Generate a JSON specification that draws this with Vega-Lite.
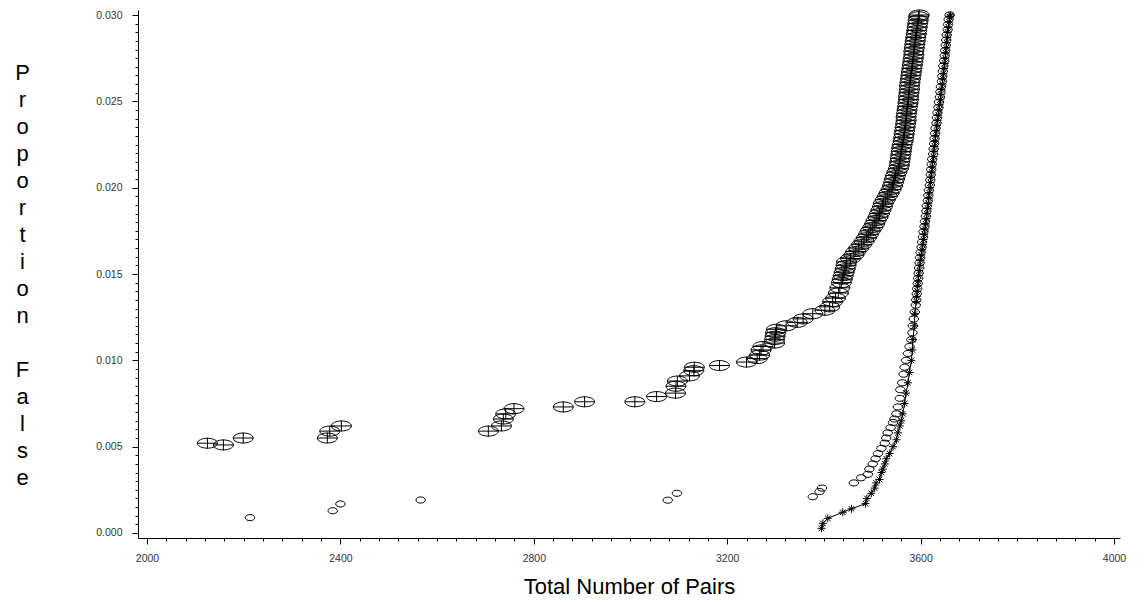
{
  "$schema": "https://vega.github.io/schema/vega-lite/v6.json",
  "autosize": "none",
  "width": 982,
  "height": 528,
  "padding": {"left": 138, "top": 10, "right": 24, "bottom": 65},
  "background": "white",
  "config": {
    "view": {"stroke": null},
    "axis": {"grid": false, "domainColor": "black", "domainWidth": 1, "tickColor": "black", "tickWidth": 1, "labelColor": "#333333", "labelFont": "Liberation Sans", "labelFontSize": 10.5, "titleFont": "Liberation Sans", "titleFontWeight": "normal", "titleColor": "black", "titleFontSize": 22, "labelOverlap": false, "labelFlush": false}
  },
  "datasets": {
    "plus": [
      {"x": 2125, "y": 0.0052}, {"x": 2158, "y": 0.0051}, {"x": 2199, "y": 0.0055},
      {"x": 2373, "y": 0.0055}, {"x": 2378, "y": 0.0059}, {"x": 2402, "y": 0.0062},
      {"x": 2706, "y": 0.0059}, {"x": 2733, "y": 0.0062}, {"x": 2737, "y": 0.0066}, {"x": 2742, "y": 0.0069}, {"x": 2759, "y": 0.0072},
      {"x": 2861, "y": 0.0073}, {"x": 2905, "y": 0.0076}, {"x": 3009, "y": 0.0076}, {"x": 3054, "y": 0.0079},
      {"x": 3093, "y": 0.0081}, {"x": 3094, "y": 0.0085}, {"x": 3097, "y": 0.0088}, {"x": 3122, "y": 0.0091}, {"x": 3131, "y": 0.0094}, {"x": 3132, "y": 0.0096},
      {"x": 3184, "y": 0.0097}, {"x": 3240, "y": 0.0099}, {"x": 3262, "y": 0.0101}, {"x": 3267, "y": 0.0103}, {"x": 3270, "y": 0.0106}, {"x": 3274, "y": 0.0108},
      {"x": 3298, "y": 0.0110}, {"x": 3298, "y": 0.0112}, {"x": 3299, "y": 0.0114}, {"x": 3300, "y": 0.0116}, {"x": 3302, "y": 0.0118},
      {"x": 3322, "y": 0.0120}, {"x": 3345, "y": 0.0122}, {"x": 3357, "y": 0.0124}, {"x": 3377, "y": 0.0127}, {"x": 3402, "y": 0.0129},
      {"x": 3412, "y": 0.0131}, {"x": 3418, "y": 0.0134}, {"x": 3424, "y": 0.0136}, {"x": 3430, "y": 0.0139}, {"x": 3433, "y": 0.0142},
      {"x": 3436, "y": 0.0145}, {"x": 3438, "y": 0.0147}, {"x": 3440, "y": 0.0149}, {"x": 3442, "y": 0.0151}, {"x": 3444, "y": 0.0153},
      {"x": 3446, "y": 0.0155}, {"x": 3447, "y": 0.0157}, {"x": 3455, "y": 0.0159}, {"x": 3462, "y": 0.0161}, {"x": 3466, "y": 0.0163},
      {"x": 3472, "y": 0.0165}, {"x": 3478, "y": 0.0167}, {"x": 3483, "y": 0.0169}, {"x": 3488, "y": 0.0171}, {"x": 3492, "y": 0.0173},
      {"x": 3496, "y": 0.0175}, {"x": 3501, "y": 0.0177}, {"x": 3505, "y": 0.0179}, {"x": 3508, "y": 0.0181}, {"x": 3512, "y": 0.0183},
      {"x": 3515, "y": 0.0185}, {"x": 3518, "y": 0.0187}, {"x": 3521, "y": 0.0189}, {"x": 3523, "y": 0.0191}, {"x": 3527, "y": 0.0193},
      {"x": 3531, "y": 0.0195}, {"x": 3535, "y": 0.0197}, {"x": 3539, "y": 0.0199}, {"x": 3542, "y": 0.0201}, {"x": 3544, "y": 0.0203},
      {"x": 3546, "y": 0.0205}, {"x": 3548, "y": 0.0207}, {"x": 3551, "y": 0.0209}, {"x": 3554, "y": 0.0211}, {"x": 3556, "y": 0.0213},
      {"x": 3557, "y": 0.0215}, {"x": 3558, "y": 0.0217}, {"x": 3559, "y": 0.0219}, {"x": 3560, "y": 0.0221}, {"x": 3561, "y": 0.0223},
      {"x": 3562, "y": 0.0225}, {"x": 3564, "y": 0.0227}, {"x": 3565, "y": 0.0229}, {"x": 3566, "y": 0.0231}, {"x": 3567, "y": 0.0233},
      {"x": 3568, "y": 0.0235}, {"x": 3569, "y": 0.0237}, {"x": 3570, "y": 0.0239}, {"x": 3570, "y": 0.0241}, {"x": 3571, "y": 0.0243},
      {"x": 3572, "y": 0.0245}, {"x": 3573, "y": 0.0247}, {"x": 3574, "y": 0.0249}, {"x": 3575, "y": 0.0251}, {"x": 3575, "y": 0.0253},
      {"x": 3576, "y": 0.0255}, {"x": 3577, "y": 0.0257}, {"x": 3577, "y": 0.0259}, {"x": 3578, "y": 0.0261}, {"x": 3579, "y": 0.0263},
      {"x": 3580, "y": 0.0265}, {"x": 3581, "y": 0.0267}, {"x": 3582, "y": 0.0269}, {"x": 3583, "y": 0.0271}, {"x": 3584, "y": 0.0273},
      {"x": 3585, "y": 0.0275}, {"x": 3586, "y": 0.0277}, {"x": 3586, "y": 0.0279}, {"x": 3587, "y": 0.0281}, {"x": 3588, "y": 0.0283},
      {"x": 3589, "y": 0.0285}, {"x": 3590, "y": 0.0287}, {"x": 3591, "y": 0.0289}, {"x": 3592, "y": 0.0291}, {"x": 3593, "y": 0.0293},
      {"x": 3594, "y": 0.0295}, {"x": 3595, "y": 0.0297}, {"x": 3596, "y": 0.0299}, {"x": 3597, "y": 0.0300}
    ],
    "circ": [
      {"x": 2213, "y": 0.00089}, {"x": 2384, "y": 0.00129}, {"x": 2400, "y": 0.00168}, {"x": 2566, "y": 0.00191},
      {"x": 3077, "y": 0.0019}, {"x": 3096, "y": 0.0023}, {"x": 3377, "y": 0.0021}, {"x": 3391, "y": 0.0024}, {"x": 3396, "y": 0.0026},
      {"x": 3462, "y": 0.0029}, {"x": 3477, "y": 0.0032}, {"x": 3491, "y": 0.0034}, {"x": 3494, "y": 0.0037}, {"x": 3501, "y": 0.0040},
      {"x": 3507, "y": 0.0043}, {"x": 3512, "y": 0.0046}, {"x": 3519, "y": 0.0049}, {"x": 3526, "y": 0.0052}, {"x": 3529, "y": 0.0055},
      {"x": 3532, "y": 0.0058}, {"x": 3538, "y": 0.0061}, {"x": 3543, "y": 0.0064}, {"x": 3546, "y": 0.0066}, {"x": 3550, "y": 0.0069},
      {"x": 3553, "y": 0.0073}, {"x": 3557, "y": 0.0078}, {"x": 3558, "y": 0.0083}, {"x": 3562, "y": 0.0087}, {"x": 3565, "y": 0.0092},
      {"x": 3567, "y": 0.0096}, {"x": 3570, "y": 0.0100}, {"x": 3574, "y": 0.0104}, {"x": 3577, "y": 0.0108}, {"x": 3581, "y": 0.0112},
      {"x": 3583, "y": 0.0116}, {"x": 3584, "y": 0.0120}, {"x": 3586, "y": 0.0124}, {"x": 3588, "y": 0.0128}, {"x": 3590, "y": 0.0132},
      {"x": 3591, "y": 0.0135}, {"x": 3592, "y": 0.01385}, {"x": 3593, "y": 0.01415}, {"x": 3594, "y": 0.01445}, {"x": 3595, "y": 0.01475},
      {"x": 3596, "y": 0.01505}, {"x": 3597, "y": 0.01535}, {"x": 3598, "y": 0.01565}, {"x": 3599, "y": 0.01595}, {"x": 3600, "y": 0.01625},
      {"x": 3602, "y": 0.01655}, {"x": 3603, "y": 0.01685}, {"x": 3605, "y": 0.01715}, {"x": 3606, "y": 0.01745}, {"x": 3608, "y": 0.01775},
      {"x": 3609, "y": 0.01805}, {"x": 3611, "y": 0.01835}, {"x": 3612, "y": 0.01865}, {"x": 3613, "y": 0.01895}, {"x": 3615, "y": 0.01925},
      {"x": 3616, "y": 0.01955}, {"x": 3617, "y": 0.01985}, {"x": 3619, "y": 0.02015}, {"x": 3620, "y": 0.02045}, {"x": 3621, "y": 0.02075},
      {"x": 3622, "y": 0.02105}, {"x": 3623, "y": 0.02135}, {"x": 3624, "y": 0.02165}, {"x": 3626, "y": 0.02195}, {"x": 3627, "y": 0.02225},
      {"x": 3628, "y": 0.02255}, {"x": 3629, "y": 0.02285}, {"x": 3630, "y": 0.02315}, {"x": 3631, "y": 0.02345}, {"x": 3633, "y": 0.02375},
      {"x": 3634, "y": 0.02405}, {"x": 3635, "y": 0.02435}, {"x": 3637, "y": 0.02465}, {"x": 3638, "y": 0.02495}, {"x": 3640, "y": 0.02525},
      {"x": 3641, "y": 0.02555}, {"x": 3642, "y": 0.02585}, {"x": 3644, "y": 0.02615}, {"x": 3645, "y": 0.02645}, {"x": 3646, "y": 0.02675},
      {"x": 3647, "y": 0.02705}, {"x": 3649, "y": 0.02735}, {"x": 3650, "y": 0.02765}, {"x": 3651, "y": 0.02795}, {"x": 3652, "y": 0.02825},
      {"x": 3653, "y": 0.02855}, {"x": 3654, "y": 0.02885}, {"x": 3656, "y": 0.02915}, {"x": 3657, "y": 0.02945}, {"x": 3658, "y": 0.02975},
      {"x": 3660, "y": 0.0300}
    ],
    "star": [
      {"x": 3395, "y": 0.00027}, {"x": 3398, "y": 0.00056}, {"x": 3408, "y": 0.00085}, {"x": 3439, "y": 0.0012}, {"x": 3457, "y": 0.0014},
      {"x": 3486, "y": 0.0017}, {"x": 3489, "y": 0.0020}, {"x": 3498, "y": 0.0023}, {"x": 3505, "y": 0.0026}, {"x": 3508, "y": 0.0029},
      {"x": 3515, "y": 0.0031}, {"x": 3519, "y": 0.0035}, {"x": 3522, "y": 0.0037}, {"x": 3526, "y": 0.0040}, {"x": 3529, "y": 0.0043},
      {"x": 3536, "y": 0.0046}, {"x": 3543, "y": 0.0050}, {"x": 3550, "y": 0.0054}, {"x": 3553, "y": 0.0058}, {"x": 3557, "y": 0.0062},
      {"x": 3560, "y": 0.0065}, {"x": 3563, "y": 0.0069}, {"x": 3567, "y": 0.0075}, {"x": 3570, "y": 0.0081}, {"x": 3574, "y": 0.0087},
      {"x": 3577, "y": 0.0093}, {"x": 3581, "y": 0.0100}, {"x": 3583, "y": 0.0106}, {"x": 3584, "y": 0.0112}, {"x": 3587, "y": 0.0120},
      {"x": 3588, "y": 0.0127}, {"x": 3591, "y": 0.0134}, {"x": 3592, "y": 0.0137}, {"x": 3593, "y": 0.0140}, {"x": 3594, "y": 0.0143},
      {"x": 3595, "y": 0.0146}, {"x": 3596, "y": 0.0149}, {"x": 3597, "y": 0.0152}, {"x": 3598.5, "y": 0.0155}, {"x": 3600, "y": 0.0158},
      {"x": 3601.5, "y": 0.0161}, {"x": 3603, "y": 0.0164}, {"x": 3604.5, "y": 0.0167}, {"x": 3606, "y": 0.0170}, {"x": 3607.5, "y": 0.0173},
      {"x": 3609, "y": 0.0176}, {"x": 3610.5, "y": 0.0179}, {"x": 3612, "y": 0.0182}, {"x": 3613, "y": 0.0185}, {"x": 3614.5, "y": 0.0188},
      {"x": 3616, "y": 0.0191}, {"x": 3617, "y": 0.0194}, {"x": 3618, "y": 0.0197}, {"x": 3619.5, "y": 0.0200}, {"x": 3620.5, "y": 0.0203},
      {"x": 3621.5, "y": 0.0206}, {"x": 3623, "y": 0.0209}, {"x": 3624, "y": 0.0212}, {"x": 3625, "y": 0.0215}, {"x": 3626.5, "y": 0.0218},
      {"x": 3627.5, "y": 0.0221}, {"x": 3629, "y": 0.0224}, {"x": 3630, "y": 0.0227}, {"x": 3631, "y": 0.0230}, {"x": 3632.5, "y": 0.0233},
      {"x": 3634, "y": 0.0236}, {"x": 3635, "y": 0.0239}, {"x": 3636.5, "y": 0.0242}, {"x": 3638, "y": 0.0245}, {"x": 3639.5, "y": 0.0248},
      {"x": 3641, "y": 0.0251}, {"x": 3642, "y": 0.0254}, {"x": 3643.5, "y": 0.0257}, {"x": 3645, "y": 0.0260}, {"x": 3646, "y": 0.0263},
      {"x": 3647, "y": 0.0266}, {"x": 3648.5, "y": 0.0269}, {"x": 3650, "y": 0.0272}, {"x": 3651, "y": 0.0275}, {"x": 3652, "y": 0.0278},
      {"x": 3653, "y": 0.0281}, {"x": 3654, "y": 0.0284}, {"x": 3655, "y": 0.0287}, {"x": 3656, "y": 0.0290}, {"x": 3657.5, "y": 0.0293},
      {"x": 3659, "y": 0.0296}, {"x": 3660.5, "y": 0.0299}, {"x": 3662, "y": 0.0300}
    ]
  },
  "encoding": {
    "x": {
      "field": "x", "type": "quantitative",
      "scale": {"domain": [1981.39, 4012.41], "nice": false, "zero": false},
      "axis": {
        "values": [2000,2040,2080,2120,2160,2200,2240,2280,2320,2360,2400,2440,2480,2520,2560,2600,2640,2680,2720,2760,2800,2840,2880,2920,2960,3000,3040,3080,3120,3160,3200,3240,3280,3320,3360,3400,3440,3480,3520,3560,3600,3640,3680,3720,3760,3800,3840,3880,3920,3960,4000],
        "format": "d",
        "labelExpr": "datum.value % 400 === 0 ? datum.label : ''",
        "tickSize": {"condition": {"test": "datum.value % 400 === 0", "value": 6}, "value": 3},
        "labelPadding": 9,
        "labelBaseline": "top",
        "title": "Total Number of Pairs",
        "titleBaseline": "alphabetic",
        "titleY": 55
      }
    },
    "y": {
      "field": "y", "type": "quantitative",
      "scale": {"domain": [-0.00029, 0.03029], "nice": false, "zero": false},
      "axis": {
        "values": [0,0.0005,0.001,0.0015,0.002,0.0025,0.003,0.0035,0.004,0.0045,0.005,0.0055,0.006,0.0065,0.007,0.0075,0.008,0.0085,0.009,0.0095,0.01,0.0105,0.011,0.0115,0.012,0.0125,0.013,0.0135,0.014,0.0145,0.015,0.0155,0.016,0.0165,0.017,0.0175,0.018,0.0185,0.019,0.0195,0.02,0.0205,0.021,0.0215,0.022,0.0225,0.023,0.0235,0.024,0.0245,0.025,0.0255,0.026,0.0265,0.027,0.0275,0.028,0.0285,0.029,0.0295,0.03],
        "format": ".3f",
        "labelExpr": "abs(datum.value*200 - round(datum.value*200)) < 0.001 ? datum.label : ''",
        "tickSize": {"condition": {"test": "abs(datum.value*200 - round(datum.value*200)) < 0.001", "value": 6}, "value": 3},
        "labelPadding": 10,
        "title": ["P","r","o","p","o","r","t","i","o","n","\u2800","F","a","l","s","e"],
        "titleAngle": 0,
        "titleAlign": "center",
        "titleBaseline": "alphabetic",
        "titleLineHeight": 27,
        "titleX": -116,
        "titleY": 69
      }
    }
  },
  "layer": [
    {
      "data": {"name": "plus"},
      "mark": {"type": "point", "shape": "M-1,0A1,0.5 0 1,0 1,0A1,0.5 0 1,0 -1,0M-1,0L1,0M0,-0.55L0,0.55", "size": 400, "filled": false, "color": "black", "strokeWidth": 1, "opacity": 1}
    },
    {
      "data": {"name": "circ"},
      "mark": {"type": "point", "shape": "M-1,0A1,0.65 0 1,0 1,0A1,0.65 0 1,0 -1,0", "size": 90, "filled": false, "color": "black", "strokeWidth": 1, "opacity": 1}
    },
    {
      "data": {"name": "star"},
      "mark": {"type": "line", "color": "black", "strokeWidth": 1},
      "encoding": {"order": {"field": "y", "type": "quantitative"}}
    },
    {
      "data": {"name": "star"},
      "mark": {"type": "point", "shape": "M-1,0L1,0M0,-1L0,1M-0.7,-0.7L0.7,0.7M-0.7,0.7L0.7,-0.7", "size": 64, "filled": false, "color": "black", "strokeWidth": 1, "opacity": 1}
    }
  ]
}
